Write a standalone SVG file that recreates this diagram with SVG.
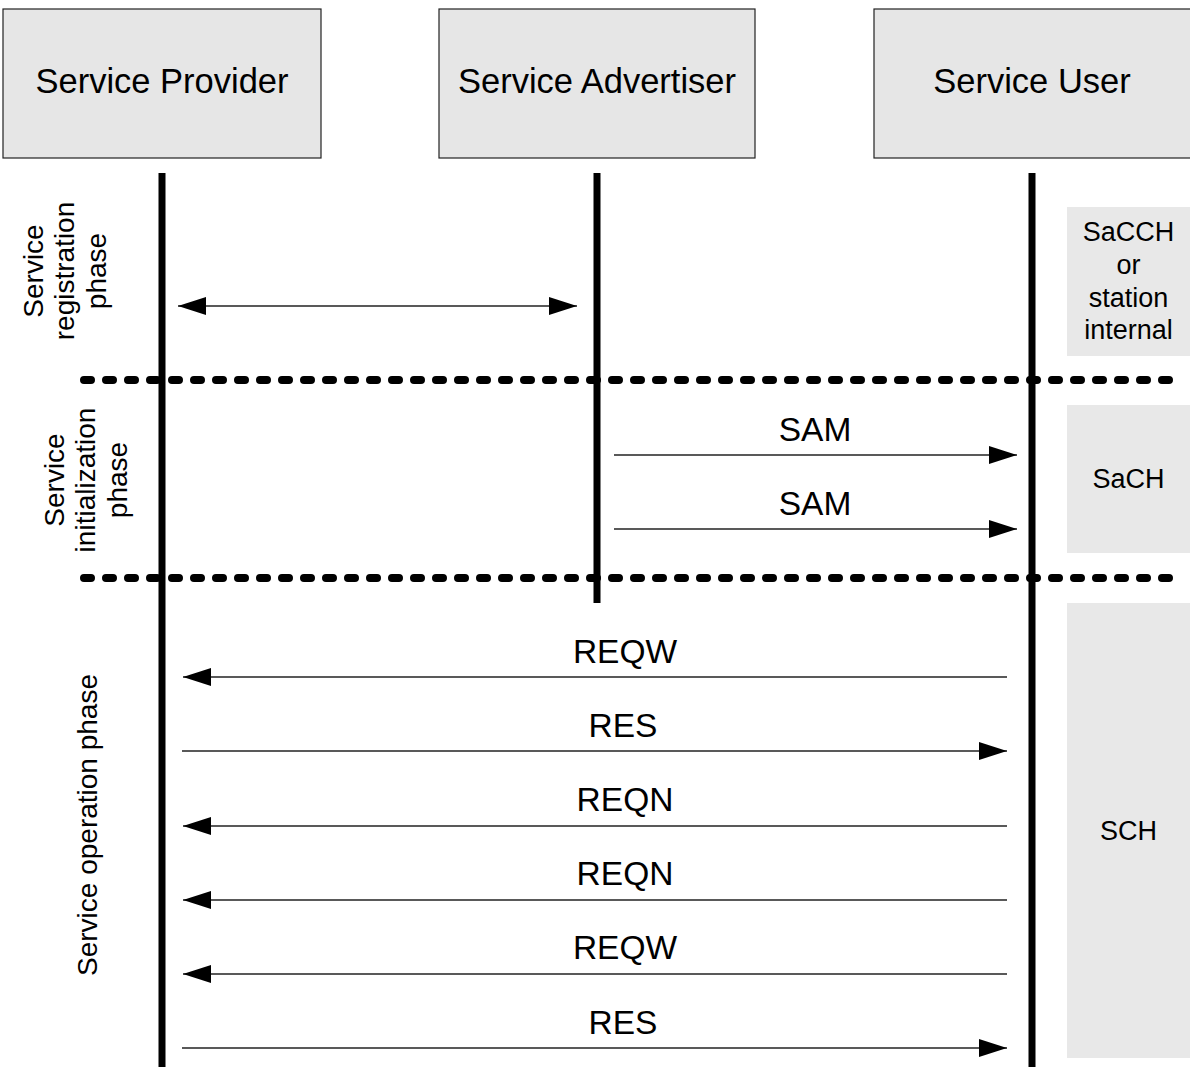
<svg xmlns="http://www.w3.org/2000/svg" width="1190" height="1067" viewBox="0 0 1190 1067">
<style>
text{font-family:"Liberation Sans",Arial,sans-serif;fill:#000}
.title{font-size:34.5px;text-anchor:middle}
.msg{font-size:33.5px;text-anchor:middle}
.side{font-size:27px;text-anchor:middle}
.phase{font-size:28px;text-anchor:middle}
.box{fill:#e6e6e6;stroke:#222;stroke-width:1.2}
.chan{fill:#e8e8e8}
.life{stroke:#000;stroke-width:7}
.dash{stroke:#000;stroke-width:8;stroke-linecap:round;stroke-dasharray:7 15;fill:none}
.arr{stroke:#222;stroke-width:1.4;fill:none}
</style>
<defs>
<marker id="ah" viewBox="0 0 28 18" refX="28" refY="9" markerWidth="28" markerHeight="18" markerUnits="userSpaceOnUse" orient="auto-start-reverse">
<path d="M0,0 L28,9 L0,18 Z" fill="#000"/>
</marker>
</defs>
<rect width="1190" height="1067" fill="#fff"/>
<g id="channels">
<g id="ch-sacch"><rect class="chan" x="1067" y="207" width="123" height="149"/>
<text class="side" x="1128.5" y="241">SaCCH</text><text class="side" x="1128.5" y="273.5">or</text><text class="side" x="1128.5" y="306.5">station</text><text class="side" x="1128.5" y="339">internal</text></g>
<g id="ch-sach"><rect class="chan" x="1067" y="405" width="123" height="148"/>
<text class="side" x="1128.5" y="488">SaCH</text></g>
<g id="ch-sch"><rect class="chan" x="1067" y="603" width="123" height="455"/>
<text class="side" x="1128.5" y="840">SCH</text></g>
</g>
<g id="phases">
<text class="phase" transform="translate(0,271) rotate(-90)"><tspan x="0" y="43">Service</tspan><tspan x="0" y="74">registration</tspan><tspan x="0" y="106">phase</tspan></text>
<text class="phase" transform="translate(0,480) rotate(-90)"><tspan x="0" y="64">Service</tspan><tspan x="0" y="95">initialization</tspan><tspan x="0" y="127">phase</tspan></text>
<text class="phase" transform="translate(0,825) rotate(-90)"><tspan x="0" y="97">Service operation phase</tspan></text>
</g>
<g id="separators">
<line class="dash" x1="84" y1="380" x2="1175" y2="380"/>
<line class="dash" x1="84" y1="578" x2="1175" y2="578"/>
</g>
<g id="provider"><rect class="box" x="3" y="9" width="318" height="149"/><text class="title" x="162" y="93">Service Provider</text><line class="life" x1="162" y1="173" x2="162" y2="1067"/></g>
<g id="advertiser"><rect class="box" x="439" y="9" width="316" height="149"/><text class="title" x="597" y="93">Service Advertiser</text><line class="life" x1="597" y1="173" x2="597" y2="603"/></g>
<g id="user"><rect class="box" x="874" y="9" width="318" height="149"/><text class="title" x="1032" y="93">Service User</text><line class="life" x1="1032" y1="173" x2="1032" y2="1067"/></g>
<g id="connectors">
<line class="arr" x1="178" y1="306" x2="577" y2="306" marker-start="url(#ah)" marker-end="url(#ah)"/>
<line class="arr" x1="614" y1="455" x2="1017" y2="455" marker-end="url(#ah)"/>
<text class="msg" x="815" y="441">SAM</text>
<line class="arr" x1="614" y1="529" x2="1017" y2="529" marker-end="url(#ah)"/>
<text class="msg" x="815" y="515">SAM</text>
<line class="arr" x1="1007" y1="677" x2="183" y2="677" marker-end="url(#ah)"/>
<text class="msg" x="625" y="663">REQW</text>
<line class="arr" x1="182" y1="751" x2="1007" y2="751" marker-end="url(#ah)"/>
<text class="msg" x="623" y="737">RES</text>
<line class="arr" x1="1007" y1="826" x2="183" y2="826" marker-end="url(#ah)"/>
<text class="msg" x="625" y="811">REQN</text>
<line class="arr" x1="1007" y1="900" x2="183" y2="900" marker-end="url(#ah)"/>
<text class="msg" x="625" y="885">REQN</text>
<line class="arr" x1="1007" y1="974" x2="183" y2="974" marker-end="url(#ah)"/>
<text class="msg" x="625" y="959">REQW</text>
<line class="arr" x1="182" y1="1048" x2="1007" y2="1048" marker-end="url(#ah)"/>
<text class="msg" x="623" y="1034">RES</text>
</g>
</svg>
